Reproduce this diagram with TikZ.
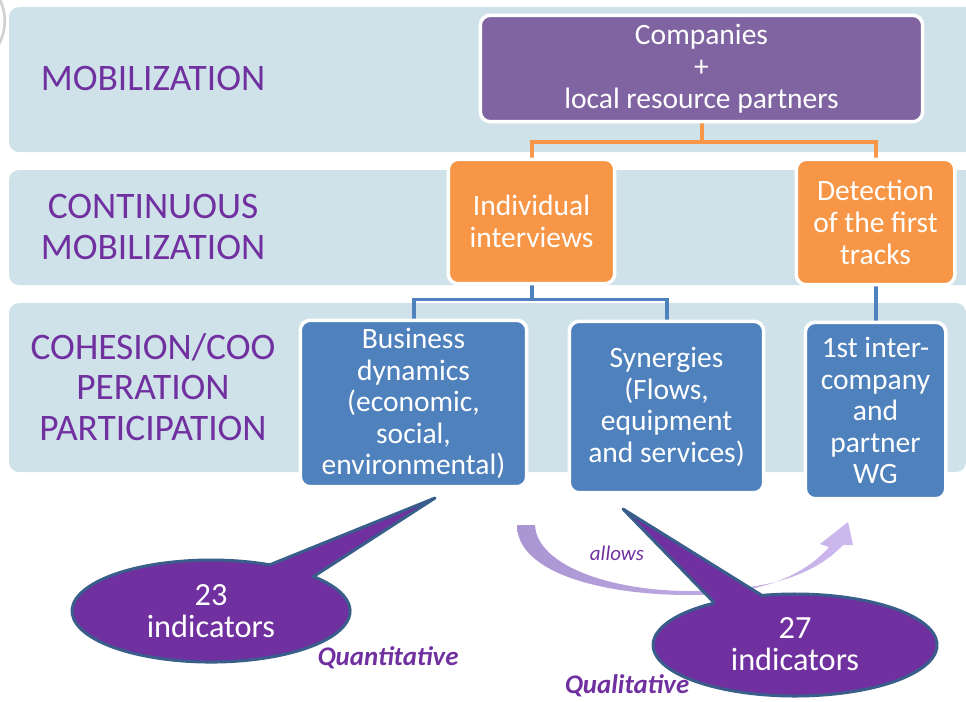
\documentclass[tikz,border=0pt]{standalone}
\usepackage{fontspec}
\setmainfont{Carlito}
\usetikzlibrary{backgrounds}
\definecolor{bandblue}{RGB}{208,226,233}
\definecolor{lilac}{RGB}{128,100,162}
\definecolor{orangebox}{RGB}{247,150,70}
\definecolor{bluebox}{RGB}{79,129,189}
\definecolor{titlepurple}{RGB}{112,48,160}
\definecolor{calloutedge}{RGB}{58,94,139}
\definecolor{arrowlight}{RGB}{205,185,238}
\definecolor{arrowmid}{RGB}{135,105,180}
\definecolor{arrowleft}{RGB}{170,148,210}
\begin{document}
\begin{tikzpicture}[x=0.02cm,y=-0.02cm,
    band/.style={fill=bandblue,rounded corners=0.2cm},
    level/.style={text=titlepurple,align=center,font=\fontsize{21.3}{23}\selectfont},
    box/.style={draw=white,line width=0.07cm,rounded corners=0.2cm,text=white,
      align=center,inner sep=0pt,font=\fontsize{16.8}{18.2}\selectfont},
    topbox/.style={box,fill=lilac},
    orangebx/.style={box,fill=orangebox},
    bluebx/.style={box,fill=bluebox,font=\fontsize{16.8}{17.9}\selectfont},
    orangeline/.style={draw=orangebox,line width=0.08cm},
    blueline/.style={draw=bluebox,line width=0.08cm},
    callout/.style={fill=titlepurple,draw=calloutedge,line width=0.06cm,line join=round},
    count/.style={text=white,align=center,font=\fontsize{18.4}{18.6}\selectfont},
    kind/.style={text=titlepurple,font=\fontsize{15.3}{17}\selectfont\bfseries\itshape}
  ]
  \useasboundingbox (0,0) rectangle (966,701);
  \draw[black!18,line width=1.5pt] (-2,-4) .. controls (7,12) and (7,30) .. (-2,46);

  \node[level] (mobil) at (153,78) {MOBILIZATION};
  \node[level] (contmobil) at (153,227) {CONTINUOUS\\MOBILIZATION};
  \node[level] (cohesion) at (153,387) {COHESION/COO\\PERATION\\PARTICIPATION};

  \node[topbox,minimum width=8.85cm,minimum height=2.13cm] (companies) at (701.5,68.5)
    {Companies\\+\\local resource partners};
  \node[orangebx,minimum width=3.33cm,minimum height=2.49cm] (interviews) at (531.5,221.5)
    {Individual\\interviews};
  \node[orangebx,minimum width=3.17cm,minimum height=2.51cm] (detection) at (875.5,222)
    {Detection\\of the first\\tracks};
  \node[bluebx,minimum width=4.53cm,minimum height=3.33cm] (business) at (413.5,403.5)
    {Business\\dynamics\\(economic,\\social,\\environmental)};
  \node[bluebx,minimum width=3.89cm,minimum height=3.43cm] (synergies) at (666.5,407)
    {Synergies\\(Flows,\\equipment\\and services)};
  \node[bluebx,minimum width=2.81cm,minimum height=3.53cm] (workgroup) at (875.5,410.5)
    {1st inter-\\company\\and\\partner\\WG};

  \begin{scope}[on background layer]
    \path[band] (9,7) rectangle (990,152);
    \path[band] (9,170) rectangle (990,285);
    \path[band] (9,303) rectangle (966,472);
    \draw[orangeline] (companies.south) -- ++(0,19) -| (interviews.north);
    \draw[orangeline] (companies.south) ++(0,19) -| (detection.north);
    \draw[blueline] (interviews.south) -- ++(0,14) -| (business.north);
    \draw[blueline] (interviews.south) ++(0,14) -| (synergies.north);
    \draw[blueline] (detection.south) -- (workgroup.north);
  \end{scope}

  \shade[left color=arrowleft,middle color=arrowmid,right color=arrowlight]
    (517,525) .. controls (517,572) and (600,595) .. (690,595)
    .. controls (760,595) and (805,575) .. (829,547) -- (820,544) -- (848,522) -- (853,545)
    -- (843,545) .. controls (812,578) and (760,591) .. (690,591)
    .. controls (612,591) and (537,566) .. (535,525) -- cycle;
  \node[text=titlepurple,font=\fontsize{11.9}{13}\selectfont\itshape] (allows) at (617,553) {allows};

  \draw[callout] (313.5,576.5) -- (435,498) -- (269.8,564.8)
    arc[start angle=-65,end angle=-402.5,x radius=139,y radius=51] -- cycle;
  \node[count] (quant) at (211,611) {23\\indicators};
  \draw[callout] (713.5,602) -- (623,509) -- (761.9,595.4)
    arc[start angle=-103.5,end angle=235,x radius=142,y radius=51] -- cycle;
  \node[count] (qual) at (795,644) {27\\indicators};

  \node[kind] (quantlabel) at (388,658) {Quantitative};
  \node[kind] (quallabel) at (627,686) {Qualitative};
\end{tikzpicture}
\end{document}
